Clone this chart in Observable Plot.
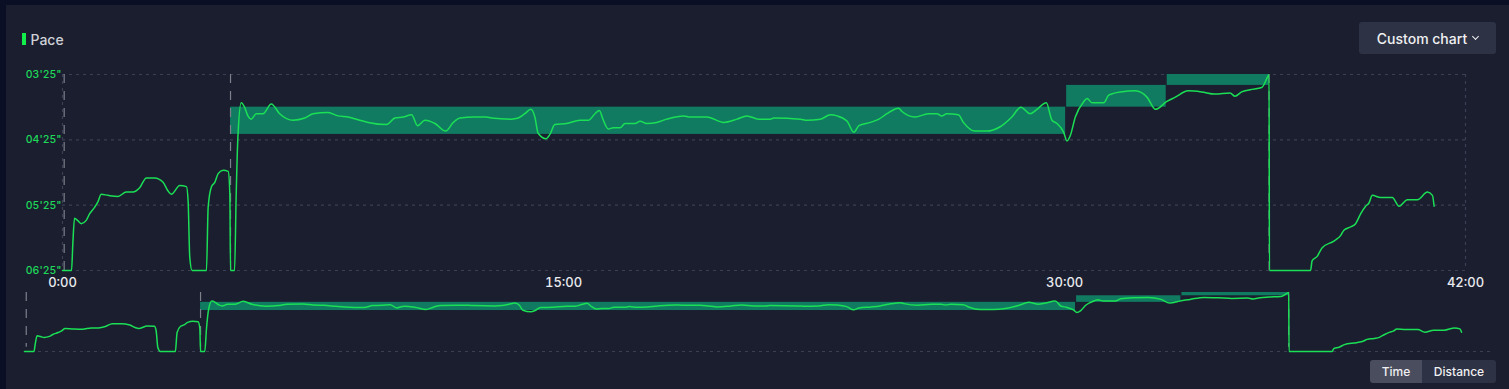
<!DOCTYPE html>
<html><head><meta charset="utf-8">
<script src="https://cdn.jsdelivr.net/npm/d3@7"></script>
<script src="https://cdn.jsdelivr.net/npm/@observablehq/plot@0.6"></script>
<style>
html,body{margin:0;padding:0;background:#1a1e2f;width:1509px;height:389px;overflow:hidden;font-family:Inter,"Noto Sans",sans-serif;}
#edgeL{position:absolute;left:0;top:0;width:6px;height:389px;background:#0b0f26;}
#edgeT{position:absolute;left:0;top:0;width:1509px;height:5px;background:#0b0f26;}
#legend{position:absolute;left:22px;top:30px;height:18px;display:flex;align-items:center;color:#cfd1d7;font-size:14px;font-weight:500;}
#legend .bar{width:3.5px;height:12px;background:#12ee4a;margin-right:5px;}
#custom{position:absolute;left:1359px;top:22px;width:137px;height:32px;background:#2d3244;border-radius:3px;color:#f0f0f2;font-size:14px;font-weight:500;display:flex;align-items:center;justify-content:center;}
#custom .chev{display:inline-block;width:4px;height:4px;border-right:1.3px solid #f0f0f2;border-bottom:1.3px solid #f0f0f2;transform:rotate(45deg);margin-left:6px;margin-top:-4px;}
#toggle{position:absolute;left:1370px;top:360px;width:126px;height:23px;display:flex;border-radius:3px;overflow:hidden;font-size:12px;font-weight:500;color:#f0f0f2;}
#toggle div{display:flex;align-items:center;justify-content:center;}
#toggle .on{width:52px;background:#494d5d;}
#toggle .off{width:74px;background:#2d3244;}
#main{position:absolute;left:0;top:0;}
#mini{position:absolute;left:0;top:280px;}
</style>
</head><body>
<div id="edgeL"></div><div id="edgeT"></div>
<div id="legend"><div class="bar"></div><span>Pace</span></div>
<div id="custom"><span>Custom chart</span><span class="chev"></span></div>
<div id="main"></div>
<div id="mini"></div>
<div id="toggle"><div class="on">Time</div><div class="off">Distance</div></div>
<script>
// elapsed time (minutes)
const timeMin = [0.00,0.27,0.31,0.36,0.45,0.56,0.71,0.81,0.96,1.06,1.16,1.36,1.66,1.91,2.11,2.31,2.51,2.76,3.01,3.16,3.26,3.51,3.71,3.76,3.81,3.88,4.31,4.36,4.46,4.56,4.66,4.81,4.96,5.01,5.03,5.15,5.20,5.25,5.35,5.45,5.55,5.65,5.80,6.00,6.25,6.50,6.90,7.25,7.50,7.95,8.25,8.55,8.90,9.15,9.70,9.95,10.20,10.45,10.63,10.85,11.15,11.47,11.70,11.90,12.33,12.69,12.84,13.44,13.64,13.84,14.02,14.14,14.24,14.47,14.59,14.74,15.09,15.49,15.74,15.94,16.07,16.19,16.34,16.49,16.69,16.84,17.14,17.29,17.49,17.79,18.09,18.59,18.79,19.29,19.79,20.19,20.49,20.84,21.19,21.29,22.09,22.29,22.69,22.99,23.19,23.49,23.69,23.84,24.19,24.44,24.68,25.03,25.13,25.52,25.92,26.18,26.32,26.47,26.82,26.97,27.32,27.67,28.07,28.42,28.69,28.97,29.17,29.45,29.62,29.77,29.97,30.07,30.17,30.32,30.57,30.67,30.82,31.17,31.32,31.67,32.12,32.47,32.72,33.05,33.30,33.70,34.10,34.50,34.95,35.10,35.30,35.55,35.90,36.08,36.12,36.13,37.36,37.41,37.56,37.71,38.06,38.26,38.36,38.56,38.71,38.86,39.01,39.11,39.21,39.46,39.81,40.01,40.26,40.56,40.86,41.01,41.06];
// pace (seconds per km)
const paceSec = [385,385,360,337,339,342,339,333,327,322,315,316,317,313,313,309,300,300,304,312,315,307,308,321,373,385,385,327,308,304,296,293,294,315,385,385,315,263,231,235,243,246,241,241,232,241,247,245,241,240,243,244,247,249,251,245,244,242,252,247,250,257,249,245,244,244,245,246,245,241,237,244,259,264,260,251,250,247,247,241,238,247,255,254,254,250,250,248,250,249,246,243,244,244,249,246,243,246,246,245,246,247,246,242,243,248,258,252,249,246,241,236,239,244,241,241,243,241,242,249,257,257,253,244,235,241,237,231,247,250,258,266,261,244,230,227,231,231,224,221,220,226,237,230,226,220,221,223,222,225,221,219,217,207,205,385,385,376,372,364,358,353,348,345,342,333,326,323,316,318,318,326,320,320,313,316,326];

// target pace zones (interval steps)
const zoneStart = [5.03, 30.06, 33.07];
const zoneEnd   = [30.03, 33.04, 36.12];
const zoneFast  = [235, 215, 205];
const zoneSlow  = [260, 235, 215];

// lap markers (minutes)
const lapTimes = [0.05, 5.03, 36.12];

// axis ticks
const xTickValues = [0, 15, 30, 42];
const xTickLabels = ["0:00", "15:00", "30:00", "42:00"];
const yTickValues = [205, 265, 325, 385];
const yTickLabels = ["03'25\"", "04'25\"", "05'25\"", "06'25\""];

const series = timeMin.map((t, i) => ({t, p: paceSec[i]}));
const zones = zoneStart.map((s, i) => ({x1: s, x2: zoneEnd[i], y1: zoneFast[i], y2: zoneSlow[i]}));

const LINE = "#1bdf55";
const ZONE = "#117b62";
const GRID = "#3a3f53";
const LAP = "#7d808b";

const main = Plot.plot({
  width: 1509,
  height: 290,
  marginLeft: 62,
  marginRight: 44,
  marginTop: 74,
  marginBottom: 20,
  style: {background: "transparent", fontFamily: "Inter, 'Noto Sans', sans-serif", overflow: "visible"},
  x: {domain: [0, 42], ticks: xTickValues, tickFormat: (d) => xTickLabels[xTickValues.indexOf(d)], tickSize: 0, tickPadding: 7, label: null},
  y: {domain: [205, 385], reverse: true, ticks: yTickValues, tickFormat: (d) => yTickLabels[yTickValues.indexOf(d)], tickSize: 0, tickPadding: 1, label: null},
  marks: [
    Plot.ruleY(yTickValues, {stroke: GRID, strokeWidth: 1.2, strokeDasharray: "3,4"}),
    Plot.ruleX([0, 42], {stroke: GRID, strokeWidth: 1.2, strokeDasharray: "3,4"}),
    Plot.rect(zones, {x1: "x1", x2: "x2", y1: "y1", y2: "y2", fill: ZONE}),
    Plot.ruleX(lapTimes, {stroke: LAP, strokeWidth: 1.2, strokeDasharray: "9,8"}),
    Plot.line(series, {x: "t", y: "p", stroke: LINE, strokeWidth: 1.5, curve: "monotone-x"}),
    Plot.axisX({ticks: xTickValues, tickFormat: (d) => xTickLabels[xTickValues.indexOf(d)], tickSize: 0, tickPadding: 7, fill: "#e9eaee", fontSize: 13, fontWeight: 500, label: null}),
    Plot.axisY({ticks: yTickValues, tickFormat: (d) => yTickLabels[yTickValues.indexOf(d)], tickSize: 0, tickPadding: 1, fill: "#1fd85a", fontSize: 10.5, fontWeight: 500, label: null})
  ]
});
document.getElementById("main").append(main);

const mini = Plot.plot({
  width: 1509,
  height: 80,
  marginLeft: 24,
  marginRight: 15,
  marginTop: 12,
  marginBottom: 9,
  style: {background: "transparent", overflow: "visible"},
  x: {domain: [0, 42], axis: null},
  y: {domain: [205, 385], reverse: true, axis: null},
  marks: [
    Plot.ruleY([385], {stroke: GRID, strokeWidth: 1, strokeDasharray: "3,4"}),
    Plot.rect(zones, {x1: "x1", x2: "x2", y1: "y1", y2: "y2", fill: ZONE}),
    Plot.ruleX(lapTimes, {y1: 205, y2: 372, stroke: LAP, strokeWidth: 1.2, strokeDasharray: "9,8"}),
    Plot.line(series, {x: "t", y: "p", stroke: LINE, strokeWidth: 1.5, curve: "monotone-x"})
  ]
});
document.getElementById("mini").append(mini);
</script>
</body></html>
